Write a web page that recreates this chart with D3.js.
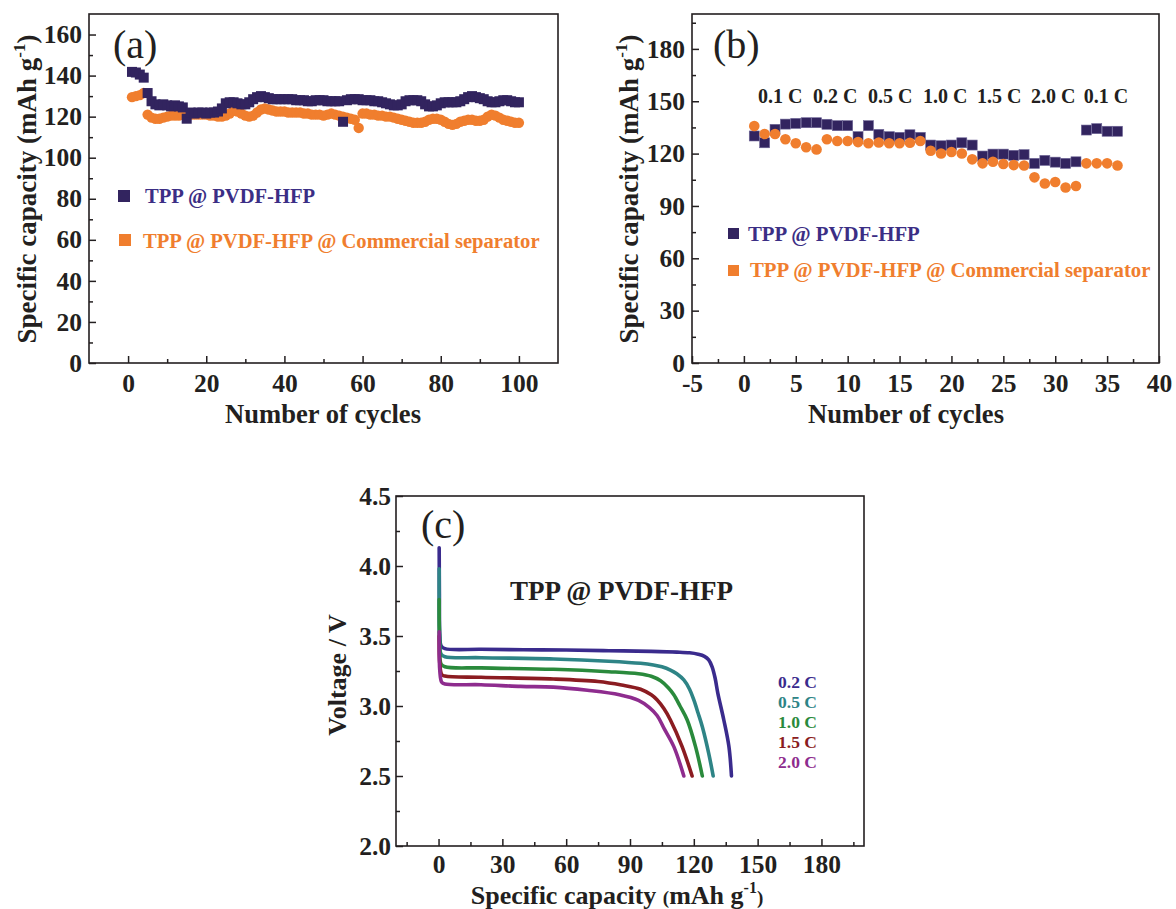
<!DOCTYPE html>
<html>
<head>
<meta charset="utf-8">
<script src="https://cdn.jsdelivr.net/npm/d3@7"></script>
<style>
  body { margin: 0; background: #fff; }
  svg { display: block; }
  text { font-family: "Liberation Serif", "Times New Roman", serif; }
</style>
</head>
<body>
<svg id="chart" width="1176" height="909"></svg>
<script>
// ---------- data (a): cycling at constant rate ----------
const cyclesA = d3.range(1, 101);
const tppA = [
  141.8, 141.5, 140.5, 139, 131.5, 127.5, 126, 125.5, 126, 125.5,
  125, 125.5, 125, 124.5, 119, 122, 121.5, 122, 122, 121.5,
  122, 122, 122.5, 124, 126.5, 127, 127, 126.5, 126, 126,
  127, 128.5, 129.5, 130, 129.5, 129, 128.5, 128.5, 128.5, 128.5,
  128.5, 128.5, 128, 128, 128, 127.5, 127.5, 128, 128, 128,
  127.5, 127.5, 127.5, 127.5, 117.5, 128, 128.5, 128.5, 128.5, 128,
  128, 128, 127.5, 127.5, 127, 126.5, 126, 125.5, 125.5, 126,
  127.5, 128, 128, 128, 127.5, 126, 125, 125, 125.5, 126.5,
  127, 127, 127, 127, 127.5, 128.5, 129.5, 130, 129.5, 129,
  128.5, 127.5, 127, 127, 127.5, 128, 128, 127.5, 127, 127
];
const sepA = [
  129.5, 130, 130.5, 131.5, 121, 119.5, 119, 119, 119.5, 120,
  120.5, 120.5, 120.5, 121, 121, 121, 121, 121, 121, 121,
  120.5, 120.5, 120, 120, 120.5, 121.5, 123, 122.5, 121.5, 120.5,
  120, 120.5, 122, 123.5, 124, 123.5, 123, 122.5, 122.5, 122.5,
  122, 122, 122, 122, 121.5, 121.5, 121, 121, 121, 120.5,
  121, 121.5, 121, 120.5, 120, 119.5, 119, 118.5, 114.5, 121.5,
  121.5, 121, 121, 120.5, 120.5, 120, 120, 119.5, 119, 118.5,
  118, 117.5, 117, 117, 117, 117.5, 118.5, 119, 119, 118.5,
  117.5, 116.5, 116, 116.5, 117.5, 118, 118.5, 118.5, 118, 118,
  118.5, 120, 121, 120.5, 119.5, 118.5, 118, 117.5, 117, 117
];

// ---------- data (b): rate capability ----------
const cyclesB = d3.range(1, 37);
const tppB = [
  130.1, 126.2, 133.9, 136.9, 137.3, 137.7, 137.7, 136.8, 136, 136,
  129.7, 136, 131, 129.7, 129.3, 130.8, 129.3, 124.9, 124.5, 124.9,
  126.2, 124.9, 118.6, 119.7, 119.7, 119, 119.4, 114.4, 116.1, 115.1,
  114.4, 115.3, 133.5, 134.3, 132.8, 132.8
];
const sepB = [
  135.8, 131.2, 131.2, 128.2, 125.9, 123.6, 122.4, 128.2, 127.2, 127.2,
  126.6, 125.9, 126.4, 125.9, 125.9, 126.2, 127.2, 121.6, 120.1, 120.9,
  120.1, 116.7, 114.4, 115.3, 114, 113.4, 113.2, 106.4, 102.9, 103.7,
  100.6, 101.4, 114.4, 114.4, 114.4, 113.2
];
const rateLabelsB = ['0.1 C', '0.2 C', '0.5 C', '1.0 C', '1.5 C', '2.0 C', '0.1 C'];
const rateCentersB = [3.5, 8.8, 14.1, 19.4, 24.6, 29.8, 34.9];

// ---------- data (c): discharge curves [capacity, voltage] ----------
const ratesC = ['0.2 C', '0.5 C', '1.0 C', '1.5 C', '2.0 C'];
const curve02 = [[0.3, 4.13], [0.4, 3.8], [0.6, 3.5], [1.2, 3.43], [3, 3.41], [20, 3.405], [40, 3.402],
  [60, 3.4], [80, 3.395], [100, 3.39], [112, 3.385], [118, 3.38], [122, 3.37], [125, 3.355], [127, 3.33],
  [128.6, 3.28], [130, 3.2], [131.3, 3.09], [134.1, 2.9], [136.5, 2.71], [137.7, 2.5]];
const curve05 = [[0.3, 3.98], [0.5, 3.5], [1.2, 3.37], [3, 3.352], [20, 3.345], [54, 3.336], [80, 3.32],
  [95, 3.305], [101, 3.293], [105, 3.28], [109, 3.257], [112, 3.23], [115.3, 3.186], [118, 3.12],
  [120, 3.043], [122, 2.95], [124, 2.852], [127, 2.662], [129.1, 2.5]];
const curve10 = [[0.3, 3.76], [0.5, 3.45], [1.2, 3.3], [3, 3.28], [20, 3.272], [54, 3.262], [80, 3.245],
  [94, 3.23], [100, 3.212], [104.4, 3.18], [108, 3.13], [110.6, 3.08], [113.5, 3.0], [116.9, 2.9],
  [120.8, 2.71], [124, 2.5]];
const curve15 = [[0.3, 3.5], [0.6, 3.3], [1.5, 3.225], [3, 3.214], [20, 3.205], [54, 3.193], [75, 3.175],
  [86, 3.15], [95, 3.12], [100, 3.08], [102.8, 3.043], [106, 2.98], [109, 2.9], [114.5, 2.71], [119.2, 2.5]];
const curve20 = [[0.3, 3.53], [0.6, 3.25], [1.5, 3.17], [3, 3.157], [20, 3.152], [38.6, 3.14], [54, 3.135],
  [70, 3.112], [85, 3.08], [94, 3.04], [99, 2.99], [102.8, 2.93], [106, 2.84], [110.6, 2.71], [115.3, 2.5]];
const curvesC = [curve02, curve05, curve10, curve15, curve20];

// ---------- styles ----------
const ink = '#231f20';
const serif = '"Liberation Serif", "Times New Roman", serif';
const blueMark = '#32245f';
const blueText = '#3b2e85';
const orange = '#f07e2e';
const colorsC = ['#3a2b8d', '#2e8486', '#2a8a3c', '#8b1c21', '#8e2c8e'];

const svg = d3.select('#chart');

// axes with inward ticks, plus minor ticks and closed frame
function drawAxes(x, y, o) {
    const [x0, x1] = x.range();
    const [y0, y1] = y.range();
    const fmt = o.fmt || (d => String(d));

    const style = g => {
        g.select('.domain').remove();
        g.attr('font-family', serif).attr('font-size', 25.5).attr('font-weight', 'bold');
        g.selectAll('line').attr('stroke', ink).attr('stroke-width', 1.5);
        g.selectAll('text').attr('fill', ink);
    };

    svg.append('g').attr('transform', `translate(0,${y0})`)
        .call(d3.axisBottom(x).tickValues(o.xMinor).tickSize(-4).tickFormat(''))
        .call(style);
    svg.append('g').attr('transform', `translate(0,${y0})`)
        .call(d3.axisBottom(x).tickValues(o.xMajor).tickSize(-7).tickPadding(o.xPad || 11).tickFormat(fmt))
        .call(style);
    svg.append('g').attr('transform', `translate(${x0},0)`)
        .call(d3.axisLeft(y).tickValues(o.yMinor).tickSize(-4).tickFormat(''))
        .call(style);
    svg.append('g').attr('transform', `translate(${x0},0)`)
        .call(d3.axisLeft(y).tickValues(o.yMajor).tickSize(-7).tickPadding(o.yPad || 7).tickFormat(o.yFmt || fmt))
        .call(style);

    svg.append('rect')
        .attr('x', x0).attr('y', y1)
        .attr('width', x1 - x0).attr('height', y0 - y1)
        .attr('fill', 'none').attr('stroke', ink).attr('stroke-width', 1.6);
}

function yTitle(cx, cy) {
    const t = svg.append('text')
        .attr('transform', `translate(${cx},${cy}) rotate(-90)`)
        .attr('text-anchor', 'middle')
        .attr('font-family', serif).attr('font-weight', 'bold').attr('font-size', 27)
        .attr('fill', ink);
    t.append('tspan').text('Specific capacity (mAh g');
    t.append('tspan').attr('font-size', 17).attr('dy', -11).text('-1');
    t.append('tspan').attr('dy', 11).text(')');
}

function label(x, y, txt, size, opts = {}) {
    return svg.append('text')
        .attr('x', x).attr('y', y)
        .attr('font-family', serif)
        .attr('font-weight', opts.weight || 'bold')
        .attr('font-size', size)
        .attr('fill', opts.fill || ink)
        .attr('text-anchor', opts.anchor || 'start')
        .text(txt);
}

// ================= panel (a) =================
const xA = d3.scaleLinear().domain([-10, 110]).range([89, 558]);
const yA = d3.scaleLinear().domain([0, 170]).range([363, 14]);

drawAxes(xA, yA, {
    xMajor: [0, 20, 40, 60, 80, 100],
    xMinor: [10, 30, 50, 70, 90],
    yMajor: [0, 20, 40, 60, 80, 100, 120, 140, 160],
    yMinor: [10, 30, 50, 70, 90, 110, 130, 150]
});

svg.append('g').selectAll('circle')
    .data(cyclesA)
    .enter().append('circle')
    .attr('cx', d => xA(d))
    .attr('cy', (d, i) => yA(sepA[i]))
    .attr('r', 5.2)
    .attr('fill', orange);

svg.append('g').selectAll('rect')
    .data(cyclesA)
    .enter().append('rect')
    .attr('x', d => xA(d) - 5)
    .attr('y', (d, i) => yA(tppA[i]) - 5)
    .attr('width', 10).attr('height', 10)
    .attr('fill', blueMark);

label(113, 58, '(a)', 40, { weight: 'normal' });

// legend (a)
svg.append('rect').attr('x', 118).attr('y', 190).attr('width', 12).attr('height', 12).attr('fill', blueMark);
label(145, 203, 'TPP @ PVDF-HFP', 20.6, { fill: blueText });
svg.append('rect').attr('x', 119).attr('y', 234).attr('width', 12).attr('height', 12).attr('fill', orange);
label(143, 248, 'TPP @ PVDF-HFP @ Commercial separator', 20.6, { fill: orange });

yTitle(36, 189);
label(323, 423, 'Number of cycles', 26.6, { anchor: 'middle' });

// ================= panel (b) =================
const xB = d3.scaleLinear().domain([-5, 40]).range([692, 1159]);
const yB = d3.scaleLinear().domain([0, 200]).range([363, 14]);

drawAxes(xB, yB, {
    xMajor: [-5, 0, 5, 10, 15, 20, 25, 30, 35, 40],
    xMinor: [-2.5, 2.5, 7.5, 12.5, 17.5, 22.5, 27.5, 32.5, 37.5],
    yMajor: [0, 30, 60, 90, 120, 150, 180],
    yMinor: [15, 45, 75, 105, 135, 165, 195]
});

svg.append('g').selectAll('rect')
    .data(cyclesB)
    .enter().append('rect')
    .attr('x', d => xB(d) - 5)
    .attr('y', (d, i) => yB(tppB[i]) - 5)
    .attr('width', 10).attr('height', 10)
    .attr('fill', blueMark)
    .attr('stroke', '#6d6496').attr('stroke-width', 0.6);

svg.append('g').selectAll('circle')
    .data(cyclesB)
    .enter().append('circle')
    .attr('cx', d => xB(d))
    .attr('cy', (d, i) => yB(sepB[i]))
    .attr('r', 5.3)
    .attr('fill', orange);

rateLabelsB.forEach((t, i) => {
    label(xB(rateCentersB[i]), 103, t, 20, { anchor: 'middle' });
});

label(713, 58, '(b)', 40, { weight: 'normal' });

// legend (b)
svg.append('rect').attr('x', 728).attr('y', 228).attr('width', 11).attr('height', 11).attr('fill', blueMark);
label(748, 241, 'TPP @ PVDF-HFP', 20.8, { fill: blueText });
svg.append('rect').attr('x', 728).attr('y', 265).attr('width', 11).attr('height', 11).attr('fill', orange);
label(750, 277, 'TPP @ PVDF-HFP @ Commercial separator', 20.8, { fill: orange });

yTitle(638, 189);
label(906, 423, 'Number of cycles', 26.6, { anchor: 'middle' });

// ================= panel (c) =================
const xC = d3.scaleLinear().domain([-20, 200]).range([396, 864]);
const yC = d3.scaleLinear().domain([2.0, 4.5]).range([846, 496]);

drawAxes(xC, yC, {
    xMajor: [0, 30, 60, 90, 120, 150, 180],
    xMinor: [-15, 15, 45, 75, 105, 135, 165, 195],
    yMajor: [2.0, 2.5, 3.0, 3.5, 4.0, 4.5],
    yMinor: [2.25, 2.75, 3.25, 3.75, 4.25],
    yFmt: d3.format('.1f'),
    yPad: 5,
    xPad: 9
});

const lineC = d3.line()
    .x(d => xC(d[0]))
    .y(d => yC(d[1]))
    .curve(d3.curveCatmullRom.alpha(0.5));

svg.append('g').selectAll('path')
    .data(curvesC)
    .enter().append('path')
    .attr('d', lineC)
    .attr('fill', 'none')
    .attr('stroke', (d, i) => colorsC[i])
    .attr('stroke-width', 3.6)
    .attr('stroke-linecap', 'round')
    .attr('stroke-linejoin', 'round');

ratesC.forEach((t, i) => {
    label(778, 688 + i * 20, t, 17.5, { fill: colorsC[i] });
});

label(421, 538, '(c)', 40, { weight: 'normal' });
label(510, 600, 'TPP @ PVDF-HFP', 27);

// y title (c)
svg.append('text')
    .attr('transform', 'translate(346,675) rotate(-90)')
    .attr('text-anchor', 'middle')
    .attr('font-family', serif).attr('font-weight', 'bold').attr('font-size', 26)
    .attr('fill', ink)
    .text('Voltage / V');

// x title (c)
const xt = svg.append('text')
    .attr('x', 617).attr('y', 904)
    .attr('text-anchor', 'middle')
    .attr('font-family', serif).attr('font-weight', 'bold').attr('font-size', 26)
    .attr('fill', ink);
xt.append('tspan').text('Specific capacity ');
xt.append('tspan').attr('font-size', 19).text('(');
xt.append('tspan').text('mAh g');
xt.append('tspan').attr('font-size', 16).attr('dy', -11).text('-1');
xt.append('tspan').attr('font-size', 19).attr('dy', 11).text(')');
</script>
</body>
</html>
